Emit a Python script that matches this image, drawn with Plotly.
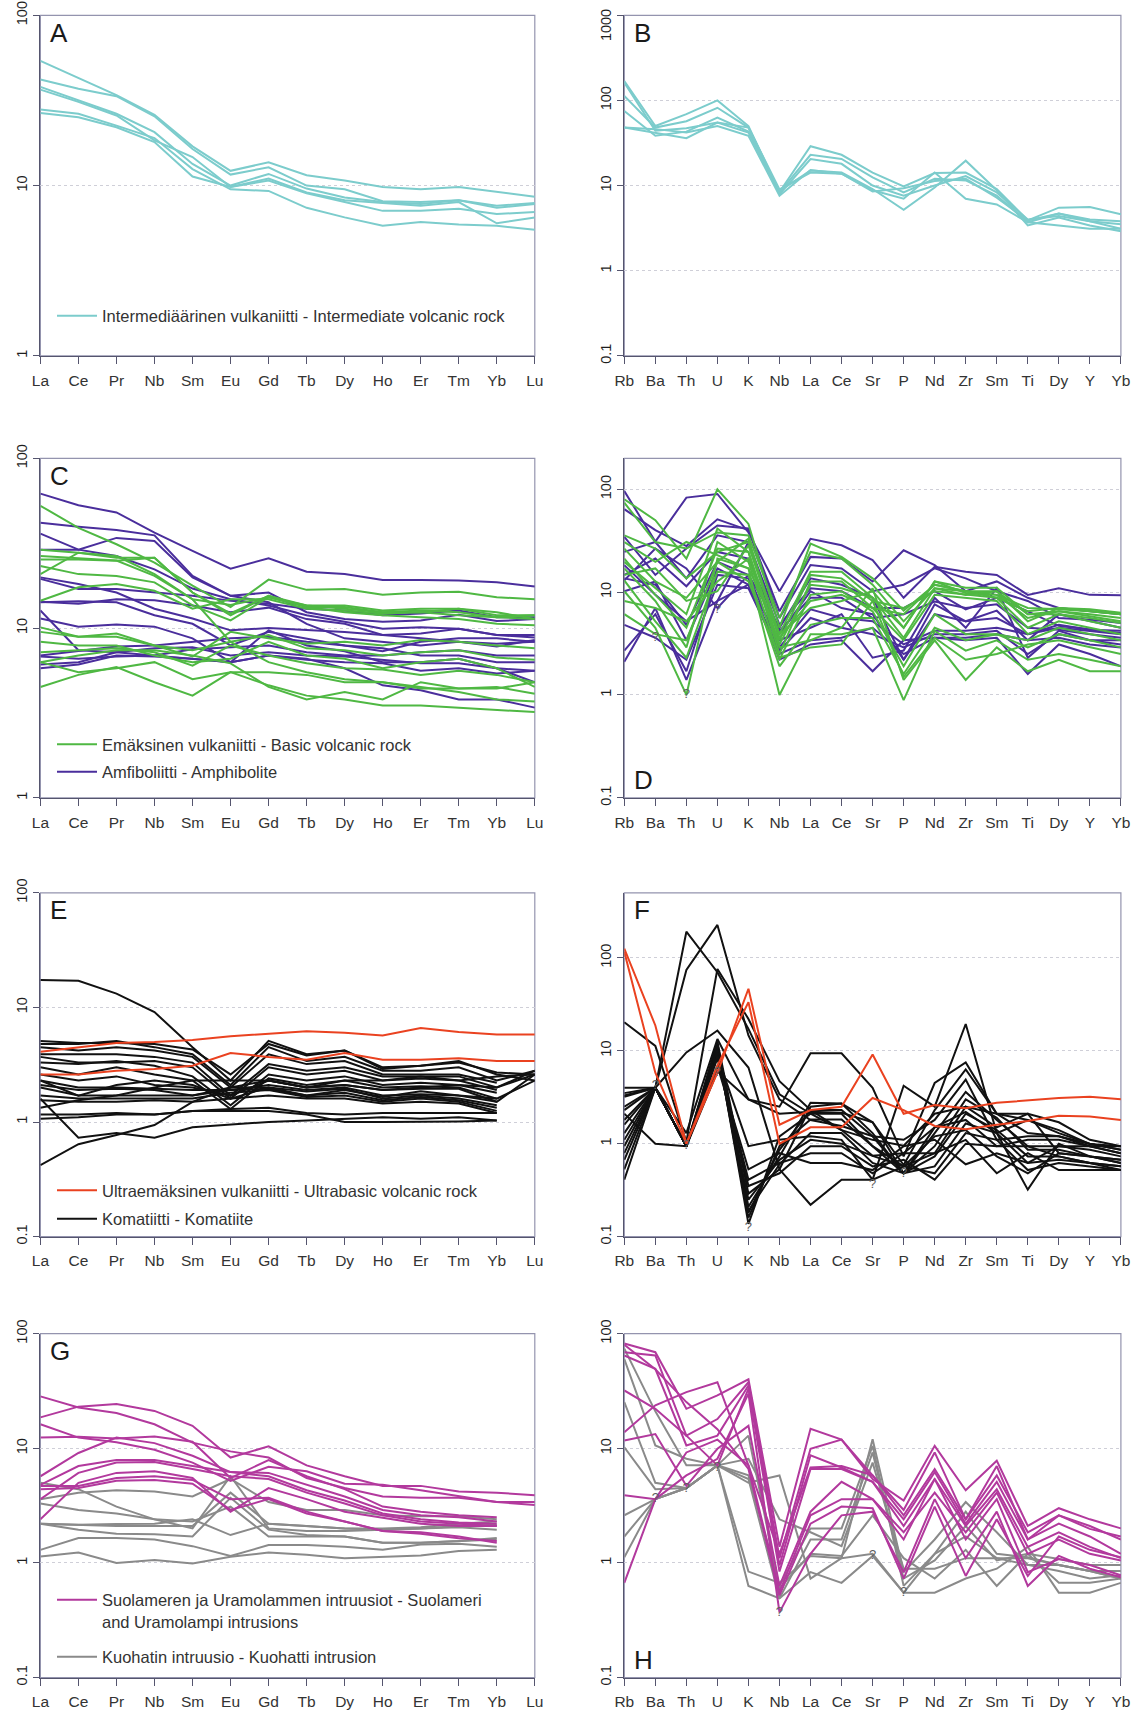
import plotly.graph_objects as go

# ---------------- categories ----------------
REE = ["La", "Ce", "Pr", "Nb", "Sm", "Eu", "Gd", "Tb", "Dy", "Ho", "Er", "Tm", "Yb", "Lu"]
SPIDER = ["Rb", "Ba", "Th", "U", "K", "Nb", "La", "Ce", "Sr", "P", "Nd", "Zr", "Sm", "Ti", "Dy", "Y", "Yb"]

# ---------------- A: intermediate volcanic rock (REE) ----------------
A_INTERMEDIATE = [
    [54, 43, 34, 26, 17, 12.2, 13.7, 11.5, 10.7, 9.8, 9.5, 9.8, 9.2, 8.6],
    [42, 37, 33.5, 25.5, 16.4, 11.6, 12.8, 10, 9.5, 8.1, 8.0, 8.2, 7.6, 7.9],
    [38, 31.6, 26.4, 20.6, 13.4, 10, 11.7, 9.6, 8.5, 8.0, 7.8, 8.2, 7.4, 7.8],
    [36.6, 31, 25.8, 18.4, 14.7, 9.8, 11, 9.1, 8.2, 7.9, 7.6, 8.0, 6.0, 6.5],
    [28, 26.4, 22.5, 19, 12.5, 9.5, 9.3, 7.4, 6.5, 5.8, 6.1, 5.9, 5.8, 5.5],
    [26.7, 25.2, 22, 18, 11.3, 9.8, 10.7, 9, 8, 7.1, 7.1, 7.3, 6.8, 7.0],
]

# ---------------- B: intermediate volcanic rock (spider) ----------------
B_INTERMEDIATE = [
    [169, 50, 69, 100, 50, 8.4, 29, 23, 14.2, 9.8, 14, 14.2, 9.1, 3.9, 5.5, 5.6, 4.6],
    [113, 48, 57, 82, 48, 8.3, 23, 20.5, 12.5, 8.3, 12, 11.5, 7.6, 3.7, 4.7, 4.0, 3.8],
    [75, 38.5, 43, 63, 43, 7.9, 20.5, 18, 10, 7.6, 10, 12.9, 8.3, 4.0, 4.4, 3.8, 3.1],
    [48, 42, 36, 55, 42, 8.6, 15, 14.2, 9.1, 5.2, 9.5, 19.6, 8.8, 3.4, 4.2, 3.4, 2.9],
    [162, 44, 47, 55, 48, 9, 14.2, 13.8, 8.8, 7, 14.2, 7, 6, 3.7, 3.4, 3.1, 3.1],
    [48, 46, 42, 50, 38.5, 7.6, 15.2, 13.8, 8.5, 9.3, 11.3, 12, 7.2, 3.9, 4.7, 3.8, 3.5],
]

# ---------------- C: basic volcanic rock / amphibolite (REE) ----------------
C_BASIC = [
    [52.6, 39, 31.2, 24.3, 17.8, 13.3, 19.3, 16.8, 17, 15.7, 16.2, 16.4, 15.2, 14.8],
    [29, 27.8, 26, 26, 16.2, 11.9, 15.5, 13.6, 13.6, 12.7, 13, 13, 11.9, 11.9],
    [25.4, 25.4, 24.9, 26, 16.2, 12.2, 15.5, 13.3, 13.3, 12.4, 12.7, 12.4, 11.6, 11.3],
    [20.8, 27.8, 26.6, 20.8, 14.8, 13.7, 15.2, 13.6, 13, 12.4, 12.4, 13, 12.4, 11.3],
    [23.2, 20.8, 20.3, 18.6, 13.6, 11.1, 15.2, 13.3, 12.4, 11.9, 11.6, 11.3, 10.6, 10.4],
    [14.5, 17.4, 18.2, 16.6, 13, 14.8, 14.8, 13, 12.7, 12.2, 12.4, 11.9, 11.6, 11.9],
    [10.1, 8.9, 9.3, 7.9, 6.8, 9.5, 8.7, 8.1, 8.3, 7.9, 8.5, 8.3, 7.9, 7.6],
    [9.5, 8.9, 8.9, 7.9, 7.4, 8.3, 9.1, 7.6, 7.4, 6.9, 7.2, 7.4, 6.7, 6.5],
    [8.3, 7.9, 7.9, 6.9, 6.3, 6.6, 8.3, 6.9, 6.6, 5.8, 6.3, 6.6, 5.8, 4.5],
    [7.2, 7.4, 7.6, 7.2, 6.0, 7.9, 6.9, 6.2, 5.8, 5.7, 5.3, 5.6, 5.3, 4.8],
    [6.3, 6.9, 7.4, 7.4, 6.9, 6.2, 4.5, 3.8, 4.2, 3.8, 4.8, 4.4, 4.4, 4.8],
    [4.5, 5.3, 5.9, 4.8, 4.0, 5.5, 4.6, 4.0, 3.8, 3.5, 3.5, 3.4, 3.3, 3.2],
    [6.3, 5.5, 5.8, 6.3, 5.0, 5.5, 5.5, 5.3, 4.8, 4.8, 4.5, 4.2, 3.8, 3.7],
    [26.6, 25.8, 25, 20.3, 14.8, 8.3, 6.3, 5.5, 5.0, 4.8, 4.4, 4.4, 4.5, 4.1],
]
C_AMPHIBOLITE = [
    [62, 53, 48, 36.5, 28.5, 22.4, 25.8, 21.5, 20.8, 19.2, 19.2, 19.1, 18.6, 17.6],
    [41.7, 39.5, 37.8, 35.2, 20.3, 15.5, 16.2, 12.4, 11.3, 10.9, 11.1, 12, 11, 11.3],
    [36, 29, 26.6, 22.2, 17.1, 14.8, 13.6, 11.9, 10.9, 9.9, 10.1, 9.9, 9.1, 9.1],
    [29, 29, 34, 32.6, 19.9, 15.5, 14.2, 10.6, 8.7, 8.3, 7.9, 8.3, 7.8, 8.5],
    [19.9, 18.2, 16.2, 13, 11.4, 9.7, 10, 9.7, 9.5, 9.1, 9.3, 9.9, 9.1, 8.8],
    [19.5, 17, 17, 16.2, 15.5, 14.5, 13.9, 13, 12.7, 11.9, 12.2, 12.7, 11.6, 11.6],
    [14.3, 13.9, 14.8, 14.6, 13.6, 12.4, 13.2, 11.3, 10.6, 9.1, 8.7, 8.3, 8.1, 8.3],
    [14.2, 14.4, 14.2, 11.9, 10.6, 7.9, 9.5, 8.7, 7.9, 7.6, 6.9, 6.9, 6.3, 6.3],
    [12.7, 7.4, 7.2, 6.9, 6.6, 6.3, 6.9, 6.5, 6.3, 6.2, 5.6, 5.8, 5.4, 5.6],
    [11.4, 10.2, 10.5, 10.2, 8.7, 6.3, 9.7, 7.9, 7.3, 6.3, 6.3, 6.6, 5.8, 4.8],
    [6.9, 7.3, 7.8, 7.9, 8.3, 8.7, 8.9, 8.3, 7.9, 7.3, 8.3, 8.7, 8.7, 8.3],
    [6.1, 6.3, 7.2, 7.6, 7.7, 6.9, 7.2, 6.9, 6.8, 6.5, 6.2, 6.2, 5.8, 5.6],
    [5.8, 6.1, 6.9, 6.8, 6.6, 6.3, 6.9, 6.6, 5.8, 4.6, 4.3, 3.8, 3.8, 3.4],
    [6.8, 6.6, 6.8, 6.9, 7.5, 7.7, 7.9, 7.2, 6.9, 6.9, 7.2, 7.4, 6.9, 6.9],
]

# ---------------- D: basic volcanic rock / amphibolite (spider) ----------------
D_BASIC = [
    [80, 50, 21.2, 100, 46, 4.5, 29.6, 22, 13.6, 6.6, 11.8, 10.2, 9.4, 7.0, 6.8, 6.5, 6.1],
    [74, 30.7, 26.5, 38, 35.6, 5.6, 24.6, 21.2, 11.8, 5.2, 10.9, 10.2, 10.2, 6.1, 6.5, 6.1, 5.6],
    [35.6, 26.5, 13.6, 24.6, 30.7, 3.9, 15.8, 15.8, 8.8, 4.5, 12.7, 9.8, 9.4, 5.6, 6.5, 5.8, 5.2],
    [26.5, 12.7, 8.8, 19.7, 33, 3.4, 14.7, 13.6, 8.2, 7.0, 10.2, 9.4, 8.8, 4.5, 6.1, 5.2, 4.5],
    [21.2, 9.4, 4.5, 26.5, 24.6, 2.5, 12.7, 12.7, 7.0, 3.4, 9.4, 8.8, 8.2, 3.9, 5.2, 4.5, 3.9],
    [17, 8.2, 2.9, 30.7, 19.7, 2.2, 9.4, 10.2, 6.5, 1.9, 6.1, 3.9, 3.9, 3.4, 4.5, 3.9, 3.4],
    [13, 5.2, 2.3, 15.8, 14.7, 1.9, 4.8, 5.6, 5.6, 1.6, 4.5, 3.4, 3.9, 2.9, 3.9, 3.4, 2.9],
    [10.2, 4.5, 1.0, 21.2, 17, 1.0, 3.9, 3.9, 4.5, 0.89, 4.2, 2.7, 3.4, 2.2, 2.5, 2.2, 1.9],
    [8.2, 7.0, 5.2, 12.7, 21.2, 2.9, 3.4, 4.5, 10.9, 1.4, 3.4, 1.4, 2.9, 1.7, 2.2, 1.7, 1.7],
    [6.1, 3.9, 3.4, 19.7, 12.7, 2.3, 2.9, 3.1, 8.2, 1.5, 3.6, 2.2, 2.5, 3.1, 3.4, 2.9, 2.5],
    [14.7, 17, 8.2, 10.2, 28.5, 3.6, 8.2, 9.4, 7.0, 6.1, 11.8, 10.2, 8.8, 6.5, 7.0, 6.5, 6.1],
    [19.7, 10.9, 6.1, 41.5, 24.6, 3.1, 11.8, 10.9, 8.8, 3.6, 10.9, 9.4, 10.2, 5.2, 7.0, 6.8, 6.3],
    [30.7, 19.7, 30.7, 22.8, 17, 3.9, 7.0, 8.2, 10.2, 4.5, 12.7, 11, 11, 6.1, 6.1, 5.6, 5.0],
]
D_AMPHIBOLITE = [
    [96, 31, 83, 90, 38, 10.2, 33, 28.5, 20.5, 8.8, 17.6, 15.8, 14.7, 9.4, 10.9, 9.4, 9.3],
    [64, 40, 28, 51, 40, 6.5, 22, 21.2, 12.7, 25.5, 18.3, 10.2, 12.7, 8.8, 7.0, 6.5, 6.1],
    [34.5, 14.7, 26.5, 44.4, 41.5, 5.6, 18.3, 17, 10.2, 11.8, 17, 13.6, 10.2, 8.2, 5.6, 5.4, 5.0],
    [24.6, 30.7, 13.6, 35.6, 30.7, 4.8, 10.9, 10.2, 7.0, 7.0, 10.2, 6.8, 8.8, 6.5, 4.7, 4.3, 4.0],
    [14.7, 21.2, 11.4, 24.6, 21.2, 4.2, 8.8, 8.8, 5.6, 6.1, 8.1, 7.0, 7.6, 4.5, 4.3, 3.9, 3.6],
    [13.6, 11.8, 4.8, 19.7, 14.7, 2.9, 6.8, 5.6, 5.2, 3.1, 4.2, 4.2, 4.5, 3.9, 4.5, 4.2, 3.9],
    [10.2, 12.7, 3.4, 17, 11.8, 2.7, 5.6, 4.5, 3.9, 2.9, 3.9, 3.9, 4.2, 2.5, 3.9, 3.4, 3.1],
    [4.8, 3.6, 2.2, 11.8, 10.9, 2.5, 3.4, 3.6, 4.5, 2.5, 3.6, 3.6, 3.9, 3.4, 3.6, 3.1, 2.9],
    [2.7, 6.1, 1.7, 14.7, 13.6, 2.2, 3.1, 3.4, 1.7, 3.4, 3.6, 3.4, 3.6, 1.6, 3.1, 2.5, 1.9],
    [2.1, 7.0, 1.4, 8.2, 11.8, 3.4, 4.5, 6.1, 2.3, 2.7, 8.8, 4.5, 10.9, 2.3, 4.2, 3.4, 3.4],
    [18.3, 9.4, 5.2, 8.2, 30.7, 3.9, 10.2, 7.0, 6.1, 2.2, 6.1, 5.2, 5.6, 3.9, 4.8, 4.3, 4.2],
    [13, 26.5, 17, 7.0, 14.7, 4.5, 13.6, 11.8, 8.8, 2.2, 7.6, 5.2, 6.6, 3.4, 6.1, 5.2, 4.5],
]
D_Q_ELEM = ["Ba", "Th", "U"]
D_Q_VAL = [3.6, 1.0, 6.8]

# ---------------- E: ultrabasic / komatiite (REE) ----------------
E_ULTRABASIC = [
    [4.1, 4.5, 4.9, 5.0, 5.2, 5.6, 5.9, 6.2, 6.0, 5.7, 6.6, 6.1, 5.8, 5.8],
    [2.6, 2.6, 2.8, 2.9, 3.1, 4.0, 3.7, 3.5, 4.0, 3.5, 3.5, 3.6, 3.4, 3.4],
]
E_KOMATIITE = [
    [17.3, 17.1, 13.2, 9.1, 4.5, 2.3, 5.1, 3.9, 4.2, 3.0, 3.1, 3.4, 2.6, 2.3],
    [5.1, 4.9, 4.9, 4.8, 4.3, 2.6, 4.8, 3.8, 4.2, 2.9, 3.1, 3.3, 2.7, 2.6],
    [4.8, 4.8, 5.1, 4.5, 3.9, 2.1, 4.5, 3.4, 3.7, 2.8, 2.8, 3.0, 2.3, 2.8],
    [4.5, 4.2, 4.5, 4.2, 3.7, 2.0, 3.9, 3.2, 3.4, 2.6, 2.6, 2.6, 2.2, None],
    [3.9, 3.9, 3.9, 3.7, 3.3, 1.7, 3.2, 2.8, 3.0, 2.5, 2.5, 2.5, 2.0, 2.8],
    [3.7, 3.3, 3.3, 3.4, 3.0, 1.6, 3.0, 2.6, 2.8, 2.3, 2.4, 2.3, 1.9, None],
    [3.3, 3.2, 3.4, 3.1, 2.5, 1.4, 2.6, 2.3, 2.5, 2.1, 2.2, 2.1, 1.8, None],
    [3.0, 2.6, 3.0, 2.6, 2.3, 1.3, 2.4, 2.1, 2.3, 2.0, 2.05, 2.0, 1.6, None],
    [2.6, 2.3, 2.5, 2.1, 2.0, 1.7, 2.3, 2.0, 2.1, 1.9, 1.95, 1.95, 1.5, 2.6],
    [2.3, 2.0, 2.0, 1.95, 1.9, 1.9, 2.1, 1.9, 2.0, 1.7, 1.75, 1.7, 1.5, None],
    [2.1, 1.9, 1.95, 1.9, 1.7, 2.0, 2.0, 1.85, 1.95, 1.6, 1.7, 1.6, 1.4, None],
    [2.0, 1.7, 1.7, 1.7, 1.7, 1.9, 1.95, 1.7, 1.8, 1.55, 1.65, 1.55, 1.33, None],
    [1.7, 1.6, 1.6, 1.6, 1.6, 1.8, 1.9, 1.65, 1.7, 1.5, 1.6, 1.5, 1.25, None],
    [1.55, 1.5, 1.5, 1.55, 1.5, 1.6, 1.7, 1.6, 1.6, 1.45, 1.5, 1.45, 1.2, None],
    [1.33, 1.55, 1.7, 2.0, 2.3, 2.3, 2.3, 2.0, 2.1, 1.9, 2.0, 2.1, 2.0, 2.6],
    [1.16, 1.16, 1.2, 1.16, 1.25, 1.3, 1.33, 1.2, 1.16, 1.2, 1.2, 1.2, 1.2, None],
    [1.07, 1.1, 1.16, 1.16, 1.25, 1.25, 1.25, 1.16, 1.0, 1.0, 1.0, 1.01, 1.03, None],
    [0.42, 0.64, 0.77, 0.94, 1.5, 2.0, 2.3, 2.0, 2.3, 2.3, 2.5, 2.3, 2.5, 2.6],
    [1.6, 0.73, 0.8, 0.73, 0.9, 0.95, 1.0, 1.03, 1.07, 1.1, 1.07, 1.1, 1.03, None],
    [2.3, 1.7, 2.1, 2.3, 2.1, 1.6, 2.0, 1.7, 1.9, 1.65, 1.85, 1.7, 1.6, 2.3],
]

# ---------------- F: ultrabasic / komatiite (spider) ----------------
F_ULTRABASIC = [
    [126, 18.7, 1.0, 5.8, 46.5, 1.6, 2.3, 2.5, 9.1, 2.1, 2.6, 2.4, 2.75, 2.9, 3.1, 3.2, 3.0],
    [116, 5.8, 1.0, 6.9, 33.4, 1.0, 1.5, 1.5, 3.1, 2.3, 1.55, 1.43, 1.6, 1.75, 2.0, 1.96, 1.8],
]
F_KOMATIITE = [
    [20.3, 11.3, 1.05, 76, 22, 4.7, 2.3, 1.4, 1.1, 0.95, 2.1, 2.5, 2.1, 2.1, 1.7, 1.1, 0.94],
    [4.0, 4.0, 191, 70, 17.2, 3.4, 2.1, 1.4, 0.74, 0.79, 1.5, 2.2, 1.3, 1.8, 1.4, 0.99, 0.94],
    [0.41, 4.0, 74, 226, 14.6, 3.0, 1.8, 1.55, 1.2, 1.1, 1.8, 4.9, 1.1, 1.2, 1.2, 0.99, 0.86],
    [3.5, 4.0, 9.6, 16.5, 6.6, 0.53, 0.22, 0.41, 0.41, 4.2, 2.5, 19.4, 1.3, 0.32, 1.0, 0.73, 0.62],
    [3.3, 4.0, 1.3, 13.4, 3.0, 2.5, 9.4, 9.4, 4.0, 0.73, 4.5, 7.5, 2.1, 1.8, 1.3, 1.0, 0.86],
    [2.5, 4.0, 0.94, 12.5, 0.29, 0.53, 2.5, 2.7, 1.7, 0.59, 2.3, 6.3, 2.1, 1.3, 1.2, 0.94, 0.79],
    [2.1, 1.0, 0.94, 12, 0.21, 0.73, 2.75, 2.7, 1.3, 0.48, 1.3, 3.6, 1.8, 0.94, 0.94, 0.86, 0.73],
    [1.8, 4.0, 0.94, 11.3, 0.18, 0.86, 2.3, 2.3, 1.2, 0.48, 0.94, 3.0, 1.9, 0.86, 0.86, 0.73, 0.67],
    [1.6, 4.0, 0.94, 10.7, 0.137, 1.2, 2.1, 2.1, 0.94, 0.57, 0.79, 2.5, 1.5, 2.1, 0.79, 0.73, 0.62],
    [1.3, 4.0, 0.94, 10.2, 0.16, 0.94, 1.82, 1.82, 0.94, 0.48, 0.73, 2.1, 1.4, 0.73, 0.73, 0.62, 0.57],
    [1.1, 4.0, 0.94, 9.5, 0.19, 0.6, 1.3, 1.3, 0.62, 0.48, 0.57, 1.65, 1.3, 0.62, 0.67, 0.62, 0.52],
    [0.94, 4.0, 0.94, 9.1, 0.25, 0.67, 1.1, 1.0, 0.74, 0.57, 0.48, 1.3, 1.1, 0.52, 0.62, 0.57, 0.52],
    [0.79, 4.0, 0.94, 8.8, 0.35, 0.48, 0.94, 0.94, 0.57, 0.67, 0.41, 1.0, 0.94, 0.94, 0.73, 0.62, 0.57],
    [0.67, 4.0, 0.94, 8.3, 0.41, 0.62, 0.79, 0.79, 0.48, 0.79, 0.79, 1.1, 0.48, 0.79, 0.52, 0.52, 0.52],
    [0.53, 4.0, 0.94, 6.9, 0.53, 0.79, 0.62, 0.62, 0.52, 0.94, 1.1, 0.6, 0.79, 0.62, 0.94, 0.94, 0.79],
    [3.2, 4.0, 0.94, 6.0, 3.0, 2.1, 2.2, 2.15, 1.7, 0.48, 1.5, 1.8, 0.94, 1.1, 1.1, 0.94, 0.94],
    [2.3, 4.0, 0.94, 8.8, 0.94, 1.1, 1.2, 1.1, 0.41, 0.57, 1.2, 1.4, 0.73, 0.48, 0.79, 0.73, 0.67],
]
F_Q_ELEM = ["Ba", "Th", "U", "K", "Sr", "P"]
F_Q_VAL = [4.2, 0.94, 5.8, 0.125, 0.36, 0.48]

# ---------------- G: intrusions (REE) ----------------
G_SUOLAMERI = [
    [28.4, 22.7, 20.3, 16.2, 11.2, 9.4, 8.3, 5.5, 4.5, 3.8, 3.7, 3.7, 3.4, 3.2],
    [18.6, 23.1, 24.3, 21.2, 15.7, 8.3, 10.4, 7.1, 5.7, 4.7, 4.7, 4.2, 4.1, 3.9],
    [16.2, 12.4, 11.3, 9.7, 7.5, 5.2, 6.9, 6.3, 4.9, 4.8, 4.3, 3.8, 3.4, 3.4],
    [12.4, 12.6, 12.2, 12.7, 11.4, 5.5, 7.9, 5.7, 4.4, 3.1, 2.8, 2.6, 2.5, None],
    [5.7, 9.1, 12.4, 11.1, 8.6, 6.2, 6.1, 4.8, 3.8, 2.9, 2.6, 2.5, 2.3, None],
    [4.8, 7.0, 7.9, 7.9, 7.0, 6.2, 5.7, 4.3, 3.5, 2.7, 2.4, 2.25, 2.2, None],
    [3.6, 6.1, 7.5, 7.6, 6.6, 5.7, 5.4, 4.1, 3.3, 2.6, 2.3, 2.2, 2.1, None],
    [2.4, 5.0, 6.1, 6.3, 5.5, 2.8, 4.5, 3.6, 2.8, 2.5, 2.2, 2.1, 2.1, None],
    [4.7, 4.7, 5.5, 5.7, 5.3, 3.6, 3.7, 2.8, 2.3, 1.9, 1.8, 1.64, 1.55, None],
    [4.4, 4.5, 5.2, 5.3, 4.9, 2.9, 3.6, 2.7, 2.3, 1.9, 1.85, 1.7, 1.5, None],
]
G_KUOHATTI = [
    [5.0, 4.4, 3.1, 2.4, 2.0, 5.7, 2.0, 1.9, 1.9, 1.95, 2.0, 2.05, 1.95, None],
    [3.6, 4.1, 4.3, 4.2, 3.8, 5.4, 3.4, 2.9, 2.9, 2.6, 2.55, 2.55, 2.4, None],
    [3.3, 2.9, 2.7, 2.4, 2.3, 3.1, 1.7, 1.7, 1.7, 1.5, 1.5, 1.55, 1.65, None],
    [2.2, 2.15, 2.1, 2.1, 2.1, 4.1, 2.2, 2.1, 2.0, 2.0, 2.05, 2.2, 2.3, None],
    [2.2, 1.95, 1.8, 1.78, 1.7, 3.7, 1.95, 1.75, 1.7, 1.5, 1.5, 1.55, 1.6, None],
    [2.2, 2.15, 2.18, 2.2, 2.4, 1.75, 2.2, 2.1, 2.0, 1.95, 2.0, 2.1, 2.15, None],
    [1.3, 1.65, 1.65, 1.6, 1.4, 1.15, 1.43, 1.43, 1.38, 1.3, 1.45, 1.47, 1.38, None],
    [1.14, 1.23, 1.0, 1.06, 0.99, 1.13, 1.23, 1.18, 1.1, 1.13, 1.16, 1.27, 1.3, None],
]

# ---------------- H: intrusions (spider) ----------------
H_SUOLAMERI = [
    [82, 69, 22.1, 29, 40, 1.38, 14.8, 11.9, 5.4, 3.5, 10.5, 4.3, 7.8, 2.1, 3.0, 2.4, 2.0],
    [69, 64.6, 12.9, 18, 37.7, 1.1, 9.9, 11.9, 5.8, 2.6, 6.6, 2.4, 5.8, 1.85, 2.6, 1.98, 1.7],
    [64.6, 49.4, 10.6, 12.9, 35.3, 0.95, 8.7, 6.8, 5.1, 2.4, 6.2, 2.2, 5.1, 1.6, 2.2, 1.7, 1.2],
    [32, 22.1, 12.9, 7.1, 33.1, 0.84, 6.6, 6.6, 5.1, 2.1, 5.4, 2.1, 4.4, 1.38, 1.85, 1.38, 1.1],
    [11.7, 13.3, 4.7, 9.9, 15.7, 0.63, 2.8, 5.1, 3.6, 1.85, 4.1, 1.85, 4.1, 1.2, 1.6, 1.2, 1.05],
    [3.9, 3.6, 9.2, 11.9, 7.1, 0.56, 2.6, 3.6, 3.6, 1.6, 5.4, 1.6, 3.6, 0.83, 1.08, 0.96, 0.78],
    [0.67, 3.6, 5.8, 8.1, 30, 0.37, 1.2, 2.6, 2.8, 0.83, 3.6, 1.1, 2.8, 0.63, 1.15, 0.89, 0.75],
    [80, 49, 25.3, 14.7, 6.6, 0.52, 2.2, 3.1, 3.0, 0.73, 3.1, 0.77, 2.4, 0.77, 1.7, 1.3, 1.12],
    [13.8, 23.7, 30.9, 37.7, 7.1, 1.2, 6.8, 7.0, 5.8, 2.9, 9.2, 2.4, 7.0, 1.6, 2.6, 2.1, 1.6],
]
H_KUOHATTI = [
    [74, 21, 7.1, 7.1, 5.8, 0.63, 2.0, 2.0, 10.5, 0.63, 1.2, 2.8, 1.2, 1.12, 0.96, 0.85, 0.85],
    [60, 10.6, 8.1, 7.1, 5.4, 0.49, 1.6, 1.6, 9.2, 0.73, 1.05, 2.1, 1.05, 1.2, 1.08, 0.96, 0.96],
    [25.3, 5.0, 4.5, 7.1, 5.0, 5.8, 0.73, 1.1, 12, 0.83, 1.6, 3.4, 1.85, 0.96, 0.85, 0.73, 0.78],
    [10.2, 4.4, 4.5, 7.1, 12.9, 0.6, 1.2, 1.15, 2.6, 1.1, 0.73, 1.3, 0.63, 1.2, 0.67, 0.67, 0.73],
    [2.6, 3.6, 4.5, 7.1, 0.84, 0.67, 1.15, 1.1, 1.2, 0.55, 0.55, 0.73, 0.89, 1.38, 0.55, 0.55, 0.67],
    [1.7, 3.6, 4.5, 7.1, 0.63, 0.49, 0.83, 0.67, 1.15, 0.55, 1.2, 1.7, 1.1, 0.96, 0.96, 0.85, 0.73],
    [1.12, 3.6, 4.5, 7.1, 8.1, 2.4, 1.85, 1.4, 7.5, 0.89, 0.89, 1.1, 1.1, 1.1, 0.96, 0.85, 0.73],
]
H_Q_ELEM = ["Ba", "Th", "U", "Nb", "Sr", "P"]
H_Q_VAL = [3.6, 4.4, 6.8, 0.37, 1.15, 0.55]

# ---------------- legend labels ----------------
LBL_INTERMEDIATE = "Intermediäärinen vulkaniitti - Intermediate volcanic rock"
LBL_BASIC = "Emäksinen vulkaniitti - Basic volcanic rock"
LBL_AMPHIBOLITE = "Amfiboliitti - Amphibolite"
LBL_ULTRABASIC = "Ultraemäksinen vulkaniitti - Ultrabasic volcanic rock"
LBL_KOMATIITE = "Komatiitti - Komatiite"
LBL_SUOLAMERI = "Suolameren ja Uramolammen intruusiot - Suolameri<br>and Uramolampi intrusions"
LBL_KUOHATTI = "Kuohatin intruusio - Kuohatti intrusion"

# ---------------- styling ----------------
W, H = 1134, 1712
FONT = "Liberation Sans, Arial, Helvetica, sans-serif"
AXIS_COLOR = "#55556e"
FRAME_COLOR = "#9494ae"
GRID_COLOR = "#cfcfd8"
TEXT_COLOR = "#333333"
YTICK_COLOR = "#1e1e1e"
TEAL = "#7ccccc"
GREEN = "#4fb843"
PURPLE = "#4a2e9c"
RED = "#ea4220"
BLACK = "#111111"
MAGENTA = "#b2399d"
GRAY = "#8a8a8a"
LW = 2.0
YTICK_SIZE = 14.5

fig = go.Figure()

# panel boxes in pixels: left, top, right, bottom
COL_L = (40.4, 534.8)
COL_R = (624.3, 1120.9)
ROWS = [(15.3, 355.8), (458.4, 797.8), (892.8, 1236.6), (1333.7, 1677.5)]


def ax_suffix(i):
    return "" if i == 1 else str(i)


def setup_panel(i, cats, yrng, yticks, col, row, hide_top_label=False):
    l, r = col
    t, b = ROWS[row]
    s = ax_suffix(i)
    labels = [f"{v:g}" for v in yticks]
    if hide_top_label:
        labels[-1] = ""
    fig.update_layout(**{
        "xaxis" + s: dict(
            domain=[l / W, r / W], anchor="y" + s, type="category",
            categoryorder="array", categoryarray=cats, range=[0, len(cats) - 1],
            showline=True, linecolor=AXIS_COLOR, linewidth=1.3, mirror=False,
            ticks="outside", ticklen=7, tickcolor=AXIS_COLOR, tickwidth=1.2,
            tickfont=dict(size=15.5, color=TEXT_COLOR, family=FONT),
            showgrid=False, zeroline=False, ticklabelstandoff=3,
            ticklabeloverflow="allow",
            automargin=False, fixedrange=True,
        ),
        "yaxis" + s: dict(
            domain=[1 - b / H, 1 - t / H], anchor="x" + s, type="log", range=yrng,
            tickvals=yticks, ticktext=labels, tickangle=-90,
            showline=True, linecolor=AXIS_COLOR, linewidth=1.3, mirror=False,
            ticks="outside", ticklen=6, tickcolor=AXIS_COLOR, tickwidth=1.2,
            tickfont=dict(size=YTICK_SIZE, color=YTICK_COLOR, family=FONT),
            showgrid=True, gridcolor=GRID_COLOR, griddash="dot", gridwidth=1,
            ticklabeloverflow="allow",
            zeroline=False, automargin=False, fixedrange=True,
        ),
    })
    fig.add_shape(
        type="rect", xref=f"x{s} domain", yref=f"y{s} domain",
        x0=0, x1=1, y0=0, y1=1, layer="below",
        line=dict(color=FRAME_COLOR, width=1.2), fillcolor="rgba(0,0,0,0)",
    )
    if hide_top_label:
        # top tick label nudged down so it stays inside the page (as in the original)
        fig.add_annotation(
            x=(l - 18.5) / W, y=1 - (t + 10) / H, xref="paper", yref="paper",
            text=f"{yticks[-1]:g}", textangle=-90, showarrow=False,
            xanchor="center", yanchor="middle",
            font=dict(size=YTICK_SIZE, color=YTICK_COLOR, family=FONT),
        )


def add_group(i, cats, rows, color, name, legend="legend", show=False, rank=1000):
    s = ax_suffix(i)
    for k, vals in enumerate(rows):
        fig.add_trace(go.Scatter(
            x=cats, y=vals, mode="lines", line=dict(color=color, width=LW),
            name=name, legendgroup=name, showlegend=(show and k == 0),
            legend=legend, legendrank=rank,
            xaxis="x" + s, yaxis="y" + s, hoverinfo="skip",
        ))


def add_q(i, elems, vals):
    s = ax_suffix(i)
    fig.add_trace(go.Scatter(
        x=elems, y=vals, mode="text", text=["?"] * len(elems),
        textfont=dict(size=13, color="#5e5e5e", family=FONT),
        showlegend=False, xaxis="x" + s, yaxis="y" + s, hoverinfo="skip",
    ))


# A
setup_panel(1, REE, [0, 2], [1, 10, 100], COL_L, 0)
add_group(1, REE, A_INTERMEDIATE, TEAL, LBL_INTERMEDIATE, "legend", True, 1)
# B
setup_panel(2, SPIDER, [-1, 3], [0.1, 1, 10, 100, 1000], COL_R, 0, hide_top_label=True)
add_group(2, SPIDER, B_INTERMEDIATE, TEAL, LBL_INTERMEDIATE)
# C
setup_panel(3, REE, [0, 2], [1, 10, 100], COL_L, 1)
add_group(3, REE, C_AMPHIBOLITE, PURPLE, LBL_AMPHIBOLITE, "legend2", True, 2)
add_group(3, REE, C_BASIC, GREEN, LBL_BASIC, "legend2", True, 1)
# D
setup_panel(4, SPIDER, [-1, 2.3], [0.1, 1, 10, 100], COL_R, 1)
add_group(4, SPIDER, D_AMPHIBOLITE, PURPLE, LBL_AMPHIBOLITE)
add_group(4, SPIDER, D_BASIC, GREEN, LBL_BASIC)
add_q(4, D_Q_ELEM, D_Q_VAL)
# E
setup_panel(5, REE, [-1, 2], [0.1, 1, 10, 100], COL_L, 2)
add_group(5, REE, E_KOMATIITE, BLACK, LBL_KOMATIITE, "legend3", True, 2)
add_group(5, REE, E_ULTRABASIC, RED, LBL_ULTRABASIC, "legend3", True, 1)
# F
setup_panel(6, SPIDER, [-1, 2.7], [0.1, 1, 10, 100], COL_R, 2)
add_group(6, SPIDER, F_KOMATIITE, BLACK, LBL_KOMATIITE)
add_group(6, SPIDER, F_ULTRABASIC, RED, LBL_ULTRABASIC)
add_q(6, F_Q_ELEM, F_Q_VAL)
# G
setup_panel(7, REE, [-1, 2], [0.1, 1, 10, 100], COL_L, 3)
add_group(7, REE, G_KUOHATTI, GRAY, LBL_KUOHATTI, "legend4", True, 2)
add_group(7, REE, G_SUOLAMERI, MAGENTA, LBL_SUOLAMERI, "legend4", True, 1)
# H
setup_panel(8, SPIDER, [-1, 2], [0.1, 1, 10, 100], COL_R, 3)
add_group(8, SPIDER, H_KUOHATTI, GRAY, LBL_KUOHATTI)
add_group(8, SPIDER, H_SUOLAMERI, MAGENTA, LBL_SUOLAMERI)
add_q(8, H_Q_ELEM, H_Q_VAL)


def legend_cfg(x_px, y_px, gap):
    return dict(
        x=x_px / W, y=1 - y_px / H, xanchor="left", yanchor="top",
        bgcolor="rgba(0,0,0,0)", borderwidth=0,
        font=dict(size=16.5, color=TEXT_COLOR, family=FONT),
        traceorder="grouped", tracegroupgap=gap, itemwidth=40,
        valign="top", itemclick=False, itemdoubleclick=False,
    )


fig.update_layout(
    legend=legend_cfg(52, 298.5, 3),
    legend2=legend_cfg(52, 727, 3),
    legend3=legend_cfg(52, 1173, 4),
    legend4=legend_cfg(52, 1582.5, 11),
)

# panel letters
LETTERS = [("A", COL_L, 0, "top"), ("B", COL_R, 0, "top"), ("C", COL_L, 1, "top"),
           ("D", COL_R, 1, "bottom"), ("E", COL_L, 2, "top"), ("F", COL_R, 2, "top"),
           ("G", COL_L, 3, "top"), ("H", COL_R, 3, "bottom")]
for letter, col, row, where in LETTERS:
    l = col[0]
    t, b = ROWS[row]
    yy = t + 17.5 if where == "top" else b - 17.5
    fig.add_annotation(
        x=(l + 8) / W, y=1 - yy / H, xref="paper", yref="paper",
        text=letter, showarrow=False, xanchor="left", yanchor="middle",
        font=dict(size=26, color="#1a1a1a", family=FONT),
    )

fig.update_layout(
    width=W, height=H, autosize=False,
    margin=dict(l=0, r=0, t=0, b=0),
    paper_bgcolor="white", plot_bgcolor="white",
    font=dict(family=FONT, color=TEXT_COLOR),
    hovermode=False,
)

# remove the browser's default 8px page margin so the figure sits at the window origin
fig.write_html(
    "out.html",
    config={"displayModeBar": False},
    post_script="document.body.style.margin='0';document.body.style.padding='0';",
)
